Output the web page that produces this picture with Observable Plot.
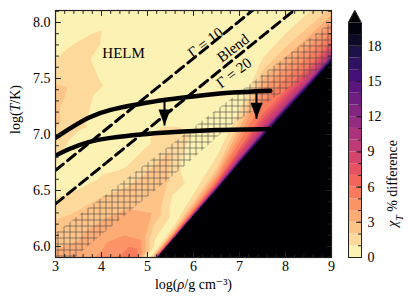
<!DOCTYPE html>
<html><head><meta charset="utf-8">
<script src="https://cdn.jsdelivr.net/npm/d3@7"></script>
<script src="https://cdn.jsdelivr.net/npm/@observablehq/plot@0.6"></script>
<style>
body{margin:0;background:#fff;}
#wrap{position:relative;width:411px;height:308px;overflow:hidden;}
#wrap svg{position:absolute;left:0;top:0;}
</style></head><body><div id="wrap"></div>
<script>
const FONT = "'Liberation Serif', 'DejaVu Serif', serif";

// ---- field samples: read lines of equal χ_T along the black (χ_T > 20) edge ----
const gradRho = [4.8, 5.2, 5.6, 6.0, 6.5, 7.0, 7.5, 8.0, 8.5, 9.0, 9.4];
const gradLevels = [20, 10, 6, 4, 2, 1, 0.4];
const gradT20 = [5.70, 5.89, 6.08, 6.27, 6.50, 6.74, 6.97, 7.20, 7.42, 7.65, 7.84];
const gradT10 = [5.712, 5.903, 6.095, 6.29, 6.53, 6.785, 7.03, 7.26, 7.48, 7.71, 7.90];
const gradT6  = [5.725, 5.918, 6.115, 6.315, 6.57, 6.88, 7.18, 7.40, 7.61, 7.84, 8.02];
const gradT4  = [5.74, 5.935, 6.135, 6.345, 6.62, 6.99, 7.40, 7.60, 7.79, 7.99, 8.16];
const gradT2  = [5.76, 5.955, 6.165, 6.40, 6.69, 7.12, 7.57, 7.78, 7.96, 8.14, 8.30];
const gradT1  = [5.78, 5.975, 6.20, 6.47, 6.80, 7.22, 7.68, 7.90, 8.09, 8.27, 8.42];
const gradT04 = [5.81, 6.01, 6.25, 6.55, 6.88, 7.30, 7.76, 7.98, 8.17, 8.36, 8.50];

// ---- other field samples [logρ, logT, χ_T % difference] ----
const lowPts = [[2.98,5.85,3.2],[3.5,5.85,3.5],[4.0,5.85,4.4],[4.4,5.87,5.3],[4.7,5.9,6.0],
  [4.9,6.1,3.5],[2.98,6.05,2.8],[3.5,6.05,3.0],[4.0,6.1,3.5],[4.5,6.1,4.0]];
const hatchPts = [[3.3,6.2,2.4],[4.0,6.35,2.5],[4.6,6.45,2.5],[5.1,6.3,3.0],[5.0,6.6,2.3],
  [5.4,6.6,2.3],[5.5,6.85,2.0],[5.75,7.0,1.5]];
const wedgePts = [[5.62,6.38,0.3],[5.9,6.7,0.3],[6.2,7.0,0.3],[6.5,7.15,0.3]];
const patchPts = [[5.3,7.0,1.6],[5.3,7.13,0.4],[4.9,6.95,0.6],[5.65,7.12,0.6]];
const leftPts = [[2.98,6.3,1.7],[3.5,6.42,1.5],[4.0,6.58,1.2],[4.5,6.72,0.9],[2.98,6.5,0.6],
  [3.5,6.62,0.4],[4.2,6.85,0.4],[2.98,6.68,0.8],[2.98,6.85,1.4],[3.3,6.85,0.7]];
const tonguePts = [[2.98,7.0,1.8],[2.98,7.15,2.5],[2.98,7.38,2.4],[3.1,7.25,2.0],[3.3,7.05,1.3],
  [3.5,7.3,1.5],[3.75,7.5,1.3],[3.6,7.1,1.1],[2.98,7.6,1.2],[3.5,7.75,1.3],[3.9,7.88,1.15],
  [3.95,7.1,0.5],[4.2,7.55,0.5],[4.3,7.95,0.5],[2.98,7.8,0.6],[3.4,7.95,0.5]];
const bgPts = [[2.98,8.15,0.4],[4.5,8.15,0.4],[6.0,8.15,0.4],[7.5,8.15,0.4],[5.0,7.6,0.4],
  [6.0,7.7,0.4],[4.6,7.3,0.4],[5.8,7.35,0.4],[7.0,7.6,0.4],[8.0,8.15,0.4],[9.5,8.6,0.4]];

// ---- overlays ----
const gammaRho = [3, 9];
const gamma10T = [6.68, 8.68];
const gamma20T = [6.38, 8.38];
const hatchRho = [3.0, 3.72, 5.83, 6.8, 9.1, 9.1, 3.0];
const hatchT   = [5.75, 6.01, 6.73, 7.08, 7.68, 8.04, 6.12];
const upperRho = [3.0, 3.3, 3.72, 4.2, 4.8, 5.4, 6.0, 6.7, 7.67];
const upperT   = [6.97, 7.05, 7.15, 7.22, 7.27, 7.31, 7.34, 7.37, 7.39];
const lowerRho = [3.0, 3.3, 3.7, 4.2, 4.85, 5.5, 6.5, 7.67];
const lowerT   = [6.81, 6.87, 6.93, 6.97, 7.00, 7.02, 7.04, 7.05];
const arrowRho = [5.37, 7.37];
const arrowFrom = [7.30, 7.38];
const arrowTo = [7.08, 7.14];
const annoText = ["HELM", "Γ = 10", "Blend", "Γ = 20"];
const annoRho = [4.48, 6.26, 6.86, 6.88];
const annoT = [7.73, 7.82, 7.77, 7.55];
const annoRot = [0, -37, -37, -37];

const xMajor = [3, 4, 5, 6, 7, 8, 9];
const yMajor = [6.0, 6.5, 7.0, 7.5, 8.0];
const cbarTicks = [0, 3, 6, 9, 12, 15, 18];
const cbarLevels = d3.range(0, 20);
const thresholds = d3.range(0, 21);

// build tables (gradient lines first: index = k * nS + s)
const field = [];
const gradT = [gradT20, gradT10, gradT6, gradT4, gradT2, gradT1, gradT04];
gradLevels.forEach((v, k) => gradRho.forEach((r, i) => field.push({rho: r, T: gradT[k][i], v})));
[lowPts, hatchPts, wedgePts, patchPts, leftPts, tonguePts, bgPts].forEach(arr =>
  arr.forEach(([r, T, v]) => field.push({rho: r, T, v})));
const hatchPoly = hatchRho.map((r, i) => ({rho: r, T: hatchT[i]}));
const upper = upperRho.map((r, i) => ({rho: r, T: upperT[i]}));
const lower = lowerRho.map((r, i) => ({rho: r, T: lowerT[i]}));
const gammaLines = [
  ...gammaRho.map((r, i) => ({rho: r, T: gamma10T[i], g: 10})),
  ...gammaRho.map((r, i) => ({rho: r, T: gamma20T[i], g: 20}))];
const arrows = arrowRho.map((r, i) => ({rho: r, from: arrowFrom[i], to: arrowTo[i]}));
const anno = annoText.map((t, i) => ({t, rho: annoRho[i], T: annoT[i], rot: annoRot[i]}));

// interpolator: column-wise between the read edge lines, barycentric elsewhere
function edgeInterp(index, width, height, X, Y, V) {
  const nS = gradRho.length, nL = gradLevels.length, nG = nS * nL;
  const W = Plot.interpolatorBarycentric()(index.filter(i => i >= nG - nS), width, height, X, Y, V);
  for (let c = 0; c < width; c++) {
    const xc = c + 0.5;
    let s = 0; while (s < nS - 2 && X[s + 1] < xc) s++;
    const f = (xc - X[s]) / (X[s + 1] - X[s]);
    const ys = [], vs = [];
    for (let k = 0; k < nL; k++) { const i0 = k * nS + s; ys.push(Y[i0] + f * (Y[i0 + 1] - Y[i0])); vs.push(V[i0]); }
    const dir = Math.sign(ys[nL - 1] - ys[0]);
    const span = (ys[nL - 1] - ys[0]) * dir;
    for (let r = 0; r < height; r++) {
      const yc = r + 0.5, d = (yc - ys[0]) * dir;
      if (d <= 0) { W[r * width + c] = vs[0] + 10; continue; }
      if (d >= span) continue;
      let k = 0; while ((yc - ys[k + 1]) * dir > 0) k++;
      const g = (yc - ys[k]) / (ys[k + 1] - ys[k]);
      W[r * width + c] = vs[k] + g * (vs[k + 1] - vs[k]);
    }
  }
  return W;
}

const xDom = [3, 9], yDom = [5.902, 8.107];
const xMinor = d3.range(30, 91, 2).map(d => d / 10);
const yMinor = d3.range(60, 82).map(d => d / 10).filter(d => d >= yDom[0] && d <= yDom[1]);

const colorOpts = {type: "linear", scheme: "magma", reverse: true, domain: [-0.5, 19.5], clamp: true};
const tickShape = {draw(ctx, l) { ctx.moveTo(0, 0); ctx.lineTo(0, -l); }};
const headShape = {draw(ctx) { ctx.moveTo(0, 0); ctx.lineTo(-6, -16); ctx.lineTo(6, -16); ctx.closePath(); }};
const tk = (data, opts) => Plot.vector(data, {anchor: "start", shape: tickShape, stroke: "#222", strokeWidth: 1, ...opts});

const main = Plot.plot({
  width: 411, height: 308,
  marginLeft: 55, marginRight: 80, marginTop: 10, marginBottom: 51,
  x: {domain: xDom}, y: {domain: yDom},
  color: colorOpts,
  style: {fontFamily: FONT, fontSize: "14px", background: "transparent", color: "#000"},
  marks: [
    Plot.contour(field, {x: "rho", y: "T", fill: "v", interpolate: edgeInterp, thresholds, pixelSize: 1, stroke: "none"}),
    Plot.line(hatchPoly, {x: "rho", y: "T", fill: "url(#xhatch)", stroke: "none", clip: true}),
    Plot.line(gammaLines, {x: "rho", y: "T", z: "g", stroke: "black", strokeWidth: 3, strokeDasharray: "10,5.5", clip: true}),
    Plot.line(upper, {x: "rho", y: "T", stroke: "black", strokeWidth: 4.5, curve: "natural", clip: true}),
    Plot.line(lower, {x: "rho", y: "T", stroke: "black", strokeWidth: 4.5, curve: "natural", clip: true}),
    Plot.link(arrows, {x1: "rho", x2: "rho", y1: "from", y2: "to", stroke: "black", strokeWidth: 2}),
    Plot.dot(arrows, {x: "rho", y: "to", symbol: headShape, r: 5, fill: "black", stroke: "none"}),
    Plot.text(anno, {x: "rho", y: "T", text: "t", rotate: "rot", fontSize: 15, fill: "black"}),
    Plot.frame({stroke: "#222", strokeWidth: 1.2}),
    tk(xMinor, {x: d => d, frameAnchor: "bottom", length: 3, rotate: 0}),
    tk(xMajor, {x: d => d, frameAnchor: "bottom", length: 5, rotate: 0}),
    tk(xMinor, {x: d => d, frameAnchor: "top", length: 3, rotate: 180}),
    tk(xMajor, {x: d => d, frameAnchor: "top", length: 5, rotate: 180}),
    tk(yMinor, {y: d => d, frameAnchor: "left", length: 3, rotate: 90}),
    tk(yMajor, {y: d => d, frameAnchor: "left", length: 5, rotate: 90}),
    tk(yMinor, {y: d => d, frameAnchor: "right", length: 3, rotate: -90}),
    tk(yMajor, {y: d => d, frameAnchor: "right", length: 5, rotate: -90}),
    Plot.axisX(xMajor, {tickSize: 0, tickPadding: 4, tickFormat: d3.format("d"), label: null, fontSize: 14}),
    Plot.axisY(yMajor, {tickSize: 0, tickPadding: 5, tickFormat: d3.format(".1f"), label: null, fontSize: 14}),
    Plot.text(["log(ρ/g cm⁻³)"], {frameAnchor: "bottom", dy: 31, fontSize: 14}),
    Plot.text(["log(T/K)"], {frameAnchor: "left", dx: -40, rotate: -90, fontSize: 14})
  ]
});

const cbarTri = [{x: 0, y: 20}, {x: 0.5, y: 21.05}, {x: 1, y: 20}];
const cbarOutline = [{x: 0, y: 0}, {x: 0, y: 20}, {x: 0.5, y: 21.05}, {x: 1, y: 20}, {x: 1, y: 0}, {x: 0, y: 0}];
const cbar = Plot.plot({
  width: 411, height: 308,
  marginLeft: 348, marginRight: 50, marginTop: 10, marginBottom: 51,
  x: {domain: [0, 1], axis: null}, y: {domain: [0, 21.05], axis: null},
  color: colorOpts,
  style: {fontFamily: FONT, fontSize: "14px", background: "transparent", color: "#000"},
  marks: [
    Plot.rect(cbarLevels, {x1: 0, x2: 1, y1: d => d, y2: d => d + 1, fill: d => d}),
    Plot.areaY(cbarTri, {x: "x", y1: 20, y2: "y", fill: () => 20}),
    Plot.line(cbarOutline, {x: "x", y: "y", stroke: "#222", strokeWidth: 1}),
    tk(d3.range(1, 20), {y: d => d, frameAnchor: "right", length: 3, rotate: -90}),
    tk(cbarTicks, {y: d => d, frameAnchor: "right", length: 5, rotate: -90}),
    Plot.axisY(cbarTicks, {anchor: "right", tickSize: 0, tickPadding: 6, label: null, fontSize: 14}),
    Plot.text(["χT % difference"], {frameAnchor: "right", y: () => 10, dx: 31, rotate: -90, fontSize: 14})
  ]
});

// hatch pattern definition
const ns = "http://www.w3.org/2000/svg";
const defs = document.createElementNS(ns, "defs");
const pat = document.createElementNS(ns, "pattern");
pat.setAttribute("id", "xhatch");
pat.setAttribute("patternUnits", "userSpaceOnUse");
pat.setAttribute("width", "6"); pat.setAttribute("height", "6");
const pp = document.createElementNS(ns, "path");
pp.setAttribute("d", "M0,3.5H6M3.5,0V6");
pp.setAttribute("stroke", "#444"); pp.setAttribute("stroke-width", "0.7"); pp.setAttribute("stroke-opacity", "0.85");
pat.appendChild(pp); defs.appendChild(pat); main.insertBefore(defs, main.firstChild);

// italic / subscript touches on math labels
function richText(svg, plain, parts) {
  svg.querySelectorAll("text").forEach(t => {
    if (t.textContent !== plain) return;
    t.textContent = "";
    for (const p of parts) {
      const s = document.createElementNS(ns, "tspan");
      s.textContent = p.t;
      if (p.i) s.setAttribute("font-style", "italic");
      if (p.sub) { s.setAttribute("baseline-shift", "sub"); s.setAttribute("font-size", "10"); }
      t.appendChild(s);
    }
  });
}
richText(main, "log(T/K)", [{t: "log("}, {t: "T", i: 1}, {t: "/K)"}]);
richText(main, "log(ρ/g cm⁻³)", [{t: "log("}, {t: "ρ", i: 1}, {t: "/g cm⁻³)"}]);
richText(cbar, "χT % difference", [{t: "χ", i: 1}, {t: "T", i: 1, sub: 1}, {t: " % difference"}]);

const wrap = document.getElementById("wrap");
wrap.appendChild(main);
wrap.appendChild(cbar);
</script></body></html>
